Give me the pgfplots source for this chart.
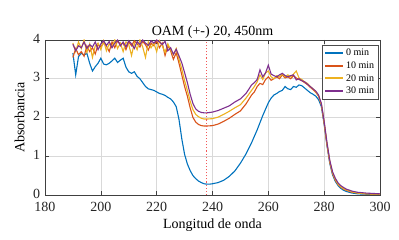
\documentclass[border=0pt]{standalone}
\usepackage{fontspec}
\setmainfont{Liberation Serif}
\usepackage{pgfplots}
\pgfplotsset{compat=1.18}
\definecolor{mblue}{rgb}{0,0.447,0.741}
\definecolor{morange}{rgb}{0.85,0.325,0.098}
\definecolor{myellow}{rgb}{0.929,0.694,0.125}
\definecolor{mpurple}{rgb}{0.494,0.184,0.556}
\begin{document}
\begin{tikzpicture}
\begin{axis}[
  at={(0,0)}, anchor=south west,
  scale only axis, width=335pt, height=155pt,
  xmin=180, xmax=300, ymin=0, ymax=4,
  xtick={180,200,...,300}, ytick={0,1,2,3,4},
  grid=major, major grid style={draw=black!15, line width=0.5pt},
  axis line style={draw=black!75, line width=0.6pt},
  tick style={draw=black!75, line width=0.5pt},
  tick align=inside, major tick length=4pt,
  /pgf/number format/assume math mode=true,
  ticklabel style={font=\fontsize{14}{16}\selectfont, text=black!85, inner sep=1pt},
  xticklabel style={yshift=-6pt},
  yticklabel style={yshift=1.5pt, xshift=-3.7pt},
  title={OAM (+-) 20, 450nm},
  title style={font=\fontsize{14}{16}\selectfont, yshift=-8.5pt},
  xlabel={Longitud de onda},
  ylabel={Absorbancia},
  label style={font=\fontsize{14}{16}\selectfont},
  xlabel style={yshift=-3pt},
  ylabel style={yshift=4pt},
  clip=true,
  legend cell align=left,
  legend style={at={(rel axis cs:0.995,0.968)}, anchor=north east,
    font=\fontsize{10}{11}\selectfont, draw=black!70, line width=0.6pt,
    inner sep=1.8pt, row sep=0.5pt},
  legend image code/.code={\draw[#1, line width=2pt] (0pt,0pt) -- (18pt,0pt);},
  every axis plot/.append style={line width=1.1pt, mark=none},
]
\addplot[mblue] coordinates {
(190,3.66)(191,3.10)(192,3.57)(193,3.66)(194,3.61)(195,3.66)(196,3.40)(197,3.20)(198,3.31)(199,3.40)
(200,3.53)(201,3.38)(202,3.36)(203,3.40)(204,3.46)(205,3.53)(206,3.42)(207,3.48)(208,3.53)(209,3.30)
(210,3.18)(211,3.14)(212,3.18)(213,3.06)(214,3.00)(215,2.90)(216,2.80)(217,2.74)(218,2.72)(219,2.70)
(220,2.66)(221,2.62)(222,2.60)(223,2.57)(224,2.52)(225,2.48)(226,2.40)(227,2.28)(228,1.95)(229,1.45)
(230,1.05)(231,0.80)(232,0.63)(233,0.50)(234,0.42)(235,0.36)(236,0.32)(237,0.29)(238,0.28)(239,0.28)
(240,0.29)(242,0.32)(244,0.38)(246,0.48)(248,0.62)(250,0.82)(252,1.06)(254,1.35)(256,1.68)(258,2.05)
(260,2.38)(261,2.50)(262,2.58)(263,2.62)(264,2.67)(265,2.70)(266,2.80)(267,2.74)(268,2.72)(269,2.80)
(270,2.78)(271,2.84)(272,2.82)(273,2.76)(274,2.70)(275,2.64)(276,2.60)(277,2.55)(278,2.46)(279,2.28)
(280,1.82)(281,1.28)(282,0.82)(283,0.52)(284,0.35)(285,0.24)(286,0.17)(287,0.12)(288,0.09)(290,0.05)
(292,0.03)(295,0.02)(300,0.01)};
\addlegendentry{0 min}
\addplot[morange] coordinates {
(190,3.55)(191,3.78)(192,3.62)(193,3.70)(194,3.58)(195,3.85)(196,3.70)(197,3.80)(198,3.64)(199,3.88)
(200,3.82)(201,3.92)(202,3.85)(203,3.70)(204,3.95)(205,3.80)(206,3.98)(207,3.88)(208,3.92)(209,3.75)
(210,3.95)(211,3.85)(212,3.98)(213,3.90)(214,3.82)(215,3.96)(216,3.88)(217,3.74)(218,3.92)(219,3.85)
(220,3.98)(221,3.80)(222,3.92)(223,3.60)(224,3.85)(225,3.72)(226,3.50)(227,3.67)(228,3.40)(229,3.10)
(230,2.80)(231,2.55)(232,2.25)(233,2.00)(234,1.88)(235,1.82)(236,1.79)(237,1.78)(238,1.78)(240,1.79)
(242,1.83)(244,1.90)(246,1.98)(248,2.08)(250,2.17)(252,2.35)(254,2.58)(255,2.66)(256,2.80)(257,2.88)
(258,2.85)(259,2.98)(260,3.05)(261,2.96)(262,3.00)(263,3.05)(264,3.00)(265,3.10)(266,3.02)(267,3.05)
(268,3.00)(269,3.08)(270,3.02)(271,2.98)(272,2.95)(273,2.90)(274,2.85)(275,2.78)(276,2.72)(277,2.65)
(278,2.55)(279,2.33)(280,1.85)(281,1.30)(282,0.85)(283,0.55)(284,0.38)(285,0.27)(286,0.20)(287,0.15)
(288,0.12)(290,0.07)(292,0.05)(295,0.03)(300,0.02)};
\addlegendentry{10 min}
\addplot[myellow] coordinates {
(190,3.92)(191,3.70)(192,3.95)(193,3.78)(194,4.00)(195,3.68)(196,3.90)(197,3.55)(198,3.85)(199,3.92)
(200,3.75)(201,3.98)(202,3.72)(203,3.90)(204,3.82)(205,4.00)(206,3.78)(207,3.92)(208,3.70)(209,3.95)
(210,3.88)(211,3.60)(212,3.92)(213,3.75)(214,4.00)(215,3.82)(216,3.55)(217,3.95)(218,3.80)(219,3.92)
(220,3.70)(221,3.98)(222,3.85)(223,3.68)(224,3.90)(225,3.75)(226,3.62)(227,3.78)(228,3.50)(229,3.25)
(230,2.95)(231,2.70)(232,2.42)(233,2.20)(234,2.08)(235,2.02)(236,1.98)(237,1.96)(238,1.96)(240,1.97)
(242,2.01)(244,2.08)(246,2.16)(248,2.25)(250,2.33)(252,2.50)(254,2.70)(255,2.80)(256,2.92)(257,3.10)
(258,2.98)(259,3.15)(260,3.20)(261,3.05)(262,3.00)(263,3.08)(264,3.05)(265,3.12)(266,3.05)(267,3.10)
(268,3.05)(269,3.12)(270,3.20)(271,3.02)(272,2.98)(273,2.92)(274,2.88)(275,2.80)(276,2.74)(277,2.66)
(278,2.56)(279,2.34)(280,1.87)(281,1.32)(282,0.87)(283,0.57)(284,0.40)(285,0.28)(286,0.21)(287,0.16)
(288,0.13)(290,0.08)(292,0.05)(295,0.03)(300,0.02)};
\addlegendentry{20 min}
\addplot[mpurple] coordinates {
(190,3.89)(191,3.72)(192,3.85)(193,3.80)(194,3.95)(195,3.78)(196,3.88)(197,3.82)(198,3.95)(199,3.75)
(200,3.90)(201,3.98)(202,3.86)(203,3.96)(204,3.80)(205,3.92)(206,4.00)(207,3.85)(208,3.95)(209,3.82)
(210,3.98)(211,3.90)(212,3.78)(213,3.96)(214,3.88)(215,4.00)(216,3.92)(217,3.86)(218,3.98)(219,3.92)
(220,4.00)(221,3.95)(222,3.88)(223,3.97)(224,3.72)(225,3.80)(226,3.63)(227,3.76)(228,3.59)(229,3.41)
(230,3.16)(231,2.90)(232,2.60)(233,2.36)(234,2.22)(235,2.16)(236,2.13)(237,2.12)(238,2.12)(240,2.14)
(242,2.18)(244,2.24)(246,2.30)(248,2.40)(250,2.48)(252,2.62)(254,2.84)(255,2.90)(256,2.98)(257,3.23)
(258,3.05)(259,3.15)(260,3.35)(261,3.12)(262,3.08)(263,3.05)(264,3.10)(265,3.14)(266,3.08)(267,3.05)
(268,3.08)(269,3.10)(270,2.97)(271,3.00)(272,2.95)(273,2.92)(274,2.86)(275,2.80)(276,2.74)(277,2.68)
(278,2.58)(279,2.36)(280,1.90)(281,1.36)(282,0.90)(283,0.60)(284,0.43)(285,0.31)(286,0.24)(287,0.19)
(288,0.15)(290,0.10)(292,0.07)(295,0.05)(300,0.03)};
\addlegendentry{30 min}
\addplot[color={rgb,1:red,0.95;green,0.35;blue,0.35}, dotted, line width=0.9pt, forget plot] coordinates {(238,0) (238,4)};
\end{axis}
\pgfresetboundingbox
\path (-45pt,-45pt) rectangle (354pt,195pt);
\end{tikzpicture}
\end{document}
